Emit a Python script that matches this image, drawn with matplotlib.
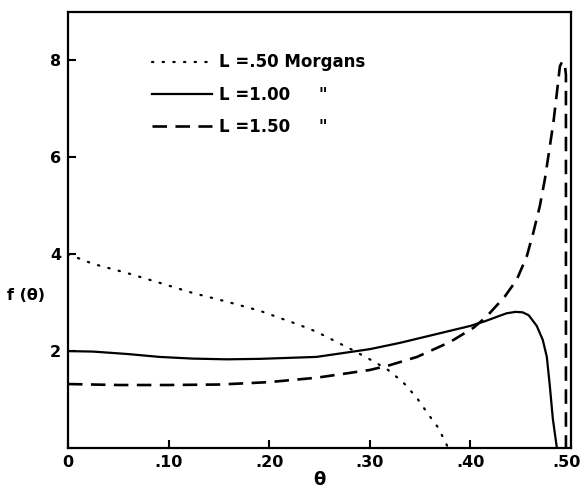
import matplotlib
matplotlib.use("Agg")
import matplotlib.pyplot as plt
import matplotlib.transforms as mtransforms

# ---- data ----
theta_050 = [0.0, 0.025, 0.059, 0.091, 0.124, 0.158, 0.191, 0.230, 0.247, 0.267,
             0.285, 0.300, 0.317, 0.333, 0.347, 0.358, 0.368, 0.378]
f_050 = [4.00, 3.80, 3.61, 3.41, 3.20, 3.02, 2.83, 2.54, 2.40, 2.19,
         2.00, 1.83, 1.63, 1.36, 1.03, 0.70, 0.42, 0.0]

theta_100 = [0.0, 0.025, 0.059, 0.091, 0.124, 0.158, 0.191, 0.247, 0.300, 0.330,
             0.380, 0.400, 0.415, 0.428, 0.436, 0.445, 0.452, 0.458, 0.466, 0.472,
             0.476, 0.479, 0.482, 0.486]
f_100 = [2.00, 1.99, 1.94, 1.88, 1.845, 1.83, 1.84, 1.88, 2.04, 2.17,
         2.42, 2.52, 2.62, 2.72, 2.78, 2.81, 2.80, 2.74, 2.52, 2.23,
         1.88, 1.28, 0.60, 0.0]

theta_150 = [0.0, 0.05, 0.10, 0.15, 0.181, 0.200, 0.247, 0.300, 0.320, 0.347,
             0.380, 0.403, 0.416, 0.434, 0.446, 0.456, 0.4625, 0.469, 0.474,
             0.478, 0.4825, 0.486, 0.489, 0.4914, 0.494, 0.495, 0.495]
f_150 = [1.32, 1.30, 1.30, 1.31, 1.34, 1.36, 1.45, 1.61, 1.71, 1.88,
         2.19, 2.48, 2.71, 3.12, 3.47, 3.95, 4.44, 4.99, 5.54,
         6.09, 6.71, 7.33, 7.88, 7.98, 7.90, 7.70, 0.0]

labels = ['L =.50 Morgans', 'L =1.00     "', 'L =1.50     "']
xticks = [0.0, 0.10, 0.20, 0.30, 0.40, 0.50]
xticklabels = ['0', '.10', '.20', '.30', '.40', '.50']
yticks = [2, 4, 6, 8]
yticklabels = ['2', '4', '6', '8']

plt.rcParams['font.family'] = ['DejaVu Sans']
plt.rcParams['font.weight'] = 'bold'

fig = plt.figure(figsize=(5.85, 4.93), dpi=100)
ax = fig.add_axes([0.1162, 0.0913, 0.8598, 0.8844])

ax.plot(theta_050, f_050, color='black', lw=1.6, linestyle=(0, (0.6, 4.2)),
        dash_capstyle='round', label=labels[0])
ax.plot(theta_100, f_100, color='black', lw=1.6, linestyle='-', label=labels[1])
ax.plot(theta_150, f_150, color='black', lw=1.9, linestyle=(0, (5.5, 3.2)),
        label=labels[2])

ax.set_xlim(0, 0.50)
ax.set_ylim(0, 9)
ax.set_xticks(xticks)
ax.set_xticklabels(xticklabels)
ax.set_yticks(yticks)
ax.set_yticklabels(yticklabels)
ax.tick_params(direction='in', length=6, width=1.5, labelsize=11.5, pad=5)
for s in ax.spines.values():
    s.set_linewidth(1.6)

# nudge the last x label slightly left so it stays inside the figure
last = ax.get_xticklabels()[-1]
last.set_transform(last.get_transform() +
                   mtransforms.ScaledTranslation(-4 / 100, 0, fig.dpi_scale_trans))

ax.set_ylabel('f (θ)', rotation=0, fontsize=11.5, fontweight='bold')
ax.yaxis.set_label_coords(-0.083, 0.333)
ax.set_xlabel('θ', fontsize=13, fontweight='bold')
ax.xaxis.set_label_coords(0.50, -0.052)

leg = ax.legend(loc='upper left', bbox_to_anchor=(0.167, 0.905), frameon=False,
                fontsize=12, handlelength=3.6, handletextpad=0.45,
                labelspacing=0.85, borderpad=0, borderaxespad=0)
for t in leg.get_texts():
    t.set_fontweight('bold')

fig.savefig('out.png', dpi=100)
